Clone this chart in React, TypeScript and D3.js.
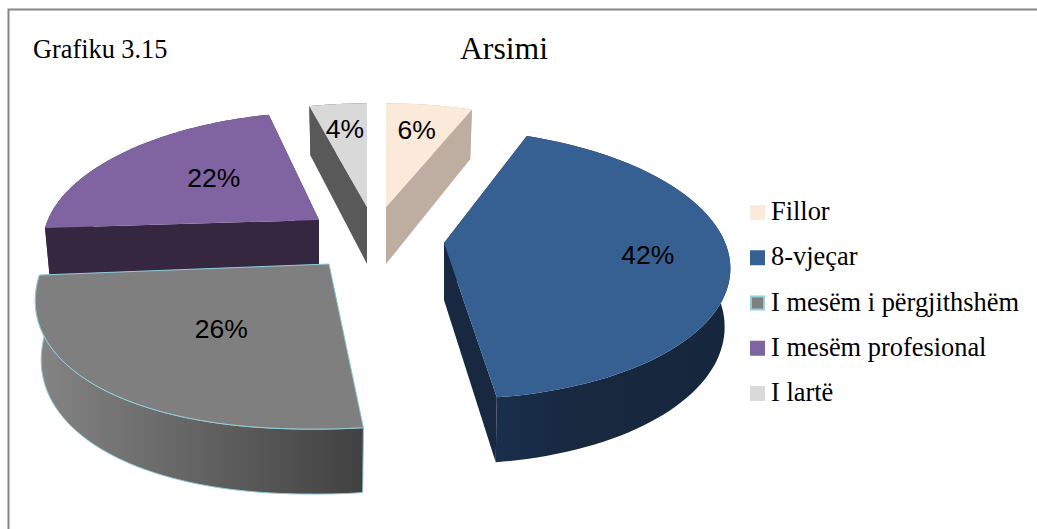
import React from "react";
import * as d3 from "d3";

const categories = ["Fillor", "8-vjeçar", "I mesëm i përgjithshëm", "I mesëm profesional", "I lartë"];
const shares = [6, 42, 26, 22, 4];
const topColors = ["#fbe9da", "#376092", "#7f7f7f", "#8064a2", "#d9d9d9"];
const sideColors = ["#bdaea1", "#172840", "#555555", "#362741", "#595959"];

// Exploded-slice placement and projection, per slice
const apexX = [386, 444, 329, 319, 367];
const apexY = [207, 243, 264, 220, 207];
const scaleX = [0.93, 0.98, 0.995, 0.945, 0.93];
const scaleY = [0.91, 1, 1.06, 0.95, 0.91];
const skews = [0, 0.072, -0.095, -0.08, 0];
const roundness = [1, 1, 0.92, 1, 1];
const labelFractions = [0.7, 0.71, 0.56, 0.5, 0.7];
const labelShiftX = [-1, 2, 12, -3, -1];
const labelShiftY = [-3, 0, -1, -7, -3];
const drawOrder = [4, 0, 3, 1, 2];

const RADIUS = 287;
const FLAT = 131.6;
const PERSPECTIVE = 0.155;
const W = 1037;
const H = 529;

const pieAngles = d3.pie<number>().sort(null).startAngle(0).endAngle(2 * Math.PI)(shares);
const lineGen = d3.line<[number, number]>().x((d) => d[0]).y((d) => d[1]);

function unit(i: number, theta: number, f: number): [number, number] {
  const e = roundness[i];
  const s = Math.sin(theta);
  const c = -Math.cos(theta);
  return [Math.sign(s) * Math.abs(s) ** e * f, Math.sign(c) * Math.abs(c) ** e * f];
}

function project(i: number, theta: number, f: number): [number, number] {
  const [u, v] = unit(i, theta, f);
  const w = 1 - PERSPECTIVE * v;
  const y = ((v * FLAT) / w) * scaleY[i];
  const x = ((u * RADIUS) / w) * scaleX[i] + skews[i] * y;
  return [apexX[i] + x, apexY[i] + y];
}

function lower(i: number, theta: number, f: number): [number, number] {
  const [x, y] = project(i, theta, f);
  const v = unit(i, theta, f)[1];
  return [apexX[i] + (x - apexX[i]) * 0.98, y + 57 + 8 * v];
}

function rim(i: number, a0: number, a1: number): [number, number][] {
  const n = 80;
  return d3.range(n + 1).map((k) => project(i, a0 + ((a1 - a0) * k) / n, 1));
}

function rimLow(i: number, a0: number, a1: number): [number, number][] {
  const n = 80;
  return d3.range(n + 1).map((k) => lower(i, a0 + ((a1 - a0) * k) / n, 1));
}

function closed(pts: [number, number][]) {
  return (lineGen(pts) ?? "") + "Z";
}

function Slice({ i }: { i: number }) {
  const a0 = pieAngles[i].startAngle;
  const a1 = pieAngles[i].endAngle;
  const apex = project(i, a0, 0);
  const apexLow = lower(i, a0, 0);
  const radial = (t: number) => closed([apex, project(i, t, 1), lower(i, t, 1), apexLow]);
  const bounds = [a0, a1].sort((p, q) => -Math.cos(p) - -Math.cos(q));
  const isGrey = i === 2;
  const stroke = isGrey ? "#92cddc" : "none";
  const rimFill = isGrey ? "url(#greySide)" : i === 1 ? "url(#blueSide)" : sideColors[i];
  return (
    <g>
      {bounds.map((t, k) => (
        <path key={k} d={radial(t)} fill={sideColors[i]} />
      ))}
      <path
        d={closed([...rim(i, a0, a1), ...rimLow(i, a0, a1).reverse()])}
        fill={rimFill}
        stroke={stroke}
        strokeWidth={1}
      />
      <path d={closed([apex, ...rim(i, a0, a1)])} fill={topColors[i]} stroke={stroke} strokeWidth={1} />
    </g>
  );
}

export default function App() {
  const serif = "'Liberation Serif', 'Times New Roman', serif";
  const sans = "'Liberation Sans', Arial, sans-serif";
  const legendY = d3.scalePoint<string>().domain(categories).range([212, 393]);
  return (
    <svg
      width={W}
      height={H}
      viewBox={`0 0 ${W} ${H}`}
      style={{ position: "absolute", left: 0, top: 0, background: "#fff" }}
    >
      <defs>
        <linearGradient id="greySide" x1="0" x2="1" y1="0" y2="0">
          <stop offset="0" stopColor="#858585" />
          <stop offset="1" stopColor="#414141" />
        </linearGradient>
        <linearGradient id="blueSide" x1="0" x2="1" y1="0" y2="0">
          <stop offset="0" stopColor="#1a2f4c" />
          <stop offset="0.35" stopColor="#17283f" />
          <stop offset="1" stopColor="#16263d" />
        </linearGradient>
      </defs>
      <path d={`M8.5 ${H}V9.5H${W}`} fill="none" stroke="#868686" strokeWidth={2} />
      <text x={33} y={58} fontFamily={serif} fontSize={26.3}>
        Grafiku 3.15
      </text>
      <text x={504} y={59} textAnchor="middle" fontFamily={serif} fontSize={31.7}>
        Arsimi
      </text>
      {drawOrder.map((i) => (
        <Slice key={i} i={i} />
      ))}
      {shares.map((s, i) => {
        const mid = (pieAngles[i].startAngle + pieAngles[i].endAngle) / 2;
        const [x, y] = project(i, mid, labelFractions[i]);
        return (
          <text
            key={i}
            x={x + labelShiftX[i]}
            y={y + labelShiftY[i]}
            textAnchor="middle"
            dominantBaseline="central"
            fontFamily={sans}
            fontSize={26.5}
          >
            {s}%
          </text>
        );
      })}
      {categories.map((c, i) => {
        const y = legendY(c) ?? 0;
        return (
          <g key={c}>
            <rect
              x={i === 2 ? 751 : 750}
              y={y - 7 + (i === 2 ? 1 : 0)}
              width={i === 2 ? 13 : 15}
              height={i === 2 ? 13 : 15}
              fill={topColors[i]}
              stroke={i === 2 ? "#92cddc" : "none"}
              strokeWidth={2}
            />
            <text x={771} y={y + 8} fontFamily={serif} fontSize={26.4}>
              {c}
            </text>
          </g>
        );
      })}
    </svg>
  );
}
